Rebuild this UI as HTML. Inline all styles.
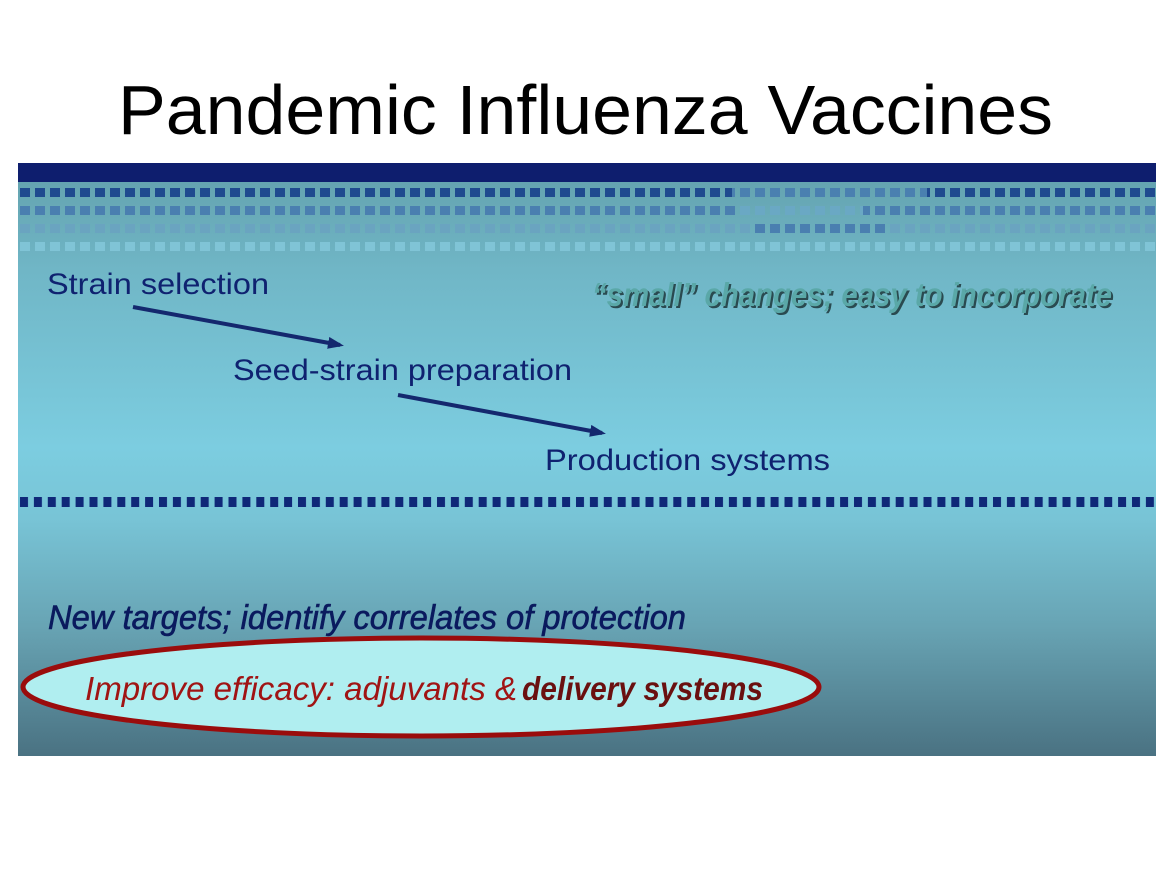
<!DOCTYPE html>
<html><head><meta charset="utf-8"><style>
html,body{margin:0;padding:0;background:#fff;width:1170px;height:878px;overflow:hidden}
</style></head><body>
<svg width="1170" height="878" xmlns="http://www.w3.org/2000/svg" style="display:block">
<defs>
<linearGradient id="bg" x1="0" y1="0" x2="0" y2="1">
<stop offset="0" stop-color="#62a0ac"/>
<stop offset="0.18" stop-color="#70b6c6"/>
<stop offset="0.48" stop-color="#7ccde0"/>
<stop offset="0.6" stop-color="#78c4d6"/>
<stop offset="0.78" stop-color="#68a4b4"/>
<stop offset="1" stop-color="#4a7282"/>
</linearGradient>
<pattern id="p1" x="20" y="0" width="15" height="900" patternUnits="userSpaceOnUse"><rect x="0" y="188" width="10" height="9" fill="#1f4a8f"/></pattern>
<pattern id="p2" x="20" y="0" width="15" height="900" patternUnits="userSpaceOnUse"><rect x="0" y="206" width="10" height="9" fill="#4a7fb0"/></pattern>
<pattern id="p3" x="20" y="0" width="15" height="900" patternUnits="userSpaceOnUse"><rect x="0" y="224" width="10" height="9" fill="#6aa4c0"/></pattern>
<pattern id="p4" x="20" y="0" width="15" height="900" patternUnits="userSpaceOnUse"><rect x="0" y="242" width="10" height="9" fill="#80c4d6"/></pattern>
<pattern id="p1l" x="20" y="0" width="15" height="900" patternUnits="userSpaceOnUse"><rect x="0" y="188" width="10" height="9" fill="#4a80b0"/></pattern>
<pattern id="p2l" x="20" y="0" width="15" height="900" patternUnits="userSpaceOnUse"><rect x="0" y="206" width="10" height="9" fill="#6aa8c4"/></pattern>
<pattern id="p3d" x="20" y="0" width="15" height="900" patternUnits="userSpaceOnUse"><rect x="0" y="224" width="10" height="9" fill="#4a7fb0"/></pattern>
<pattern id="pd" x="18" y="0" width="13.9" height="900" patternUnits="userSpaceOnUse"><rect x="2" y="497" width="8" height="10" fill="#0f2878"/></pattern>
<marker id="ah" markerWidth="16" markerHeight="12" refX="12" refY="6" orient="auto" markerUnits="userSpaceOnUse"><path d="M0,0 L16,6 L0,12 z" fill="#14286e"/></marker>
</defs>
<text x="118" y="134" textLength="935" lengthAdjust="spacingAndGlyphs" font-family="Liberation Sans, sans-serif" font-size="70" fill="#000">Pandemic Influenza Vaccines</text>
<rect x="18" y="163" width="1138" height="593" fill="url(#bg)"/>
<rect x="18" y="163" width="1138" height="19" fill="#0e1e6e"/>
<rect x="18" y="180" width="714" height="20" fill="url(#p1)"/>
<rect x="732" y="180" width="195" height="20" fill="url(#p1l)"/>
<rect x="927" y="180" width="229" height="20" fill="url(#p1)"/>
<rect x="18" y="200" width="717" height="20" fill="url(#p2)"/>
<rect x="735" y="200" width="128" height="20" fill="url(#p2l)"/>
<rect x="863" y="200" width="293" height="20" fill="url(#p2)"/>
<rect x="18" y="220" width="1138" height="18" fill="url(#p3)"/>
<rect x="750" y="220" width="137" height="18" fill="url(#p3d)"/>
<rect x="18" y="238" width="1138" height="18" fill="url(#p4)"/>
<rect x="18" y="490" width="1138" height="20" fill="url(#pd)"/>
<g font-family="Liberation Sans, sans-serif" font-size="30" fill="#0f2270">
<text x="47" y="294" textLength="222" lengthAdjust="spacingAndGlyphs">Strain selection</text>
<text x="233" y="380" textLength="339" lengthAdjust="spacingAndGlyphs">Seed-strain preparation</text>
<text x="545" y="470" textLength="285" lengthAdjust="spacingAndGlyphs">Production systems</text>
</g>
<line x1="133" y1="307" x2="340" y2="345" stroke="#14286e" stroke-width="4" marker-end="url(#ah)"/>
<line x1="398" y1="395" x2="602" y2="433" stroke="#14286e" stroke-width="4" marker-end="url(#ah)"/>
<text x="594" y="308" textLength="520" lengthAdjust="spacingAndGlyphs" font-family="Liberation Sans, sans-serif" font-size="33" font-style="italic" font-weight="bold" fill="#2a4a50">“small” changes; easy to incorporate</text>
<text x="592" y="306" textLength="520" lengthAdjust="spacingAndGlyphs" font-family="Liberation Sans, sans-serif" font-size="33" font-style="italic" font-weight="bold" fill="#5aa8a8">“small” changes; easy to incorporate</text>
<text x="48" y="629" textLength="638" lengthAdjust="spacingAndGlyphs" font-family="Liberation Sans, sans-serif" font-size="34" font-style="italic" fill="#0a1a5e" stroke="#0a1a5e" stroke-width="0.6">New targets; identify correlates of protection</text>
<ellipse cx="421" cy="687" rx="398" ry="49" fill="#b0eef0" stroke="#9a0c0c" stroke-width="5"/>
<text x="85" y="700" textLength="432" lengthAdjust="spacingAndGlyphs" font-family="Liberation Sans, sans-serif" font-size="33" font-style="italic" fill="#a01414">Improve efficacy: adjuvants &amp;</text>
<text x="522" y="700" textLength="241" lengthAdjust="spacingAndGlyphs" font-family="Liberation Sans, sans-serif" font-size="33" font-style="italic" font-weight="bold" fill="#6a1010">delivery systems</text>
</svg>
</body></html>
